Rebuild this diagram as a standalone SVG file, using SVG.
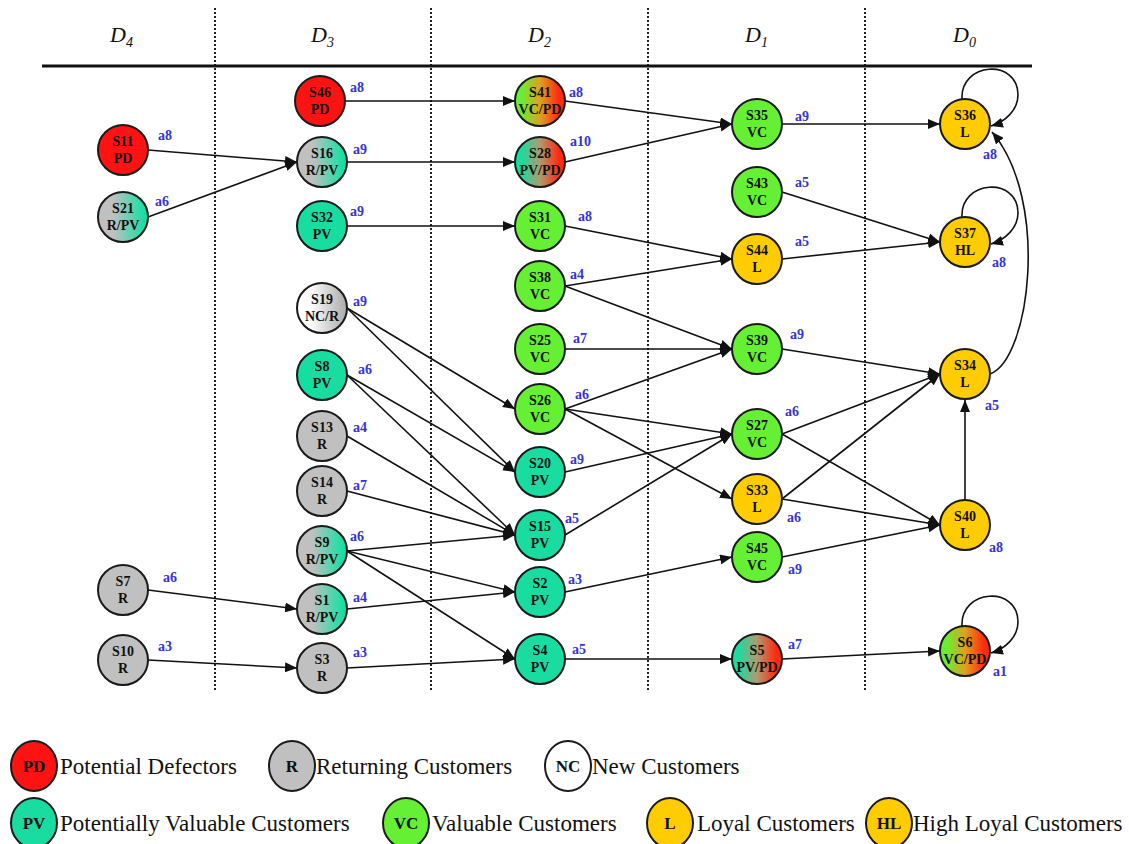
<svg xmlns="http://www.w3.org/2000/svg" width="1129" height="844" viewBox="0 0 1129 844">
<defs>
<marker id="ah" viewBox="0 0 12 10" refX="12" refY="5" markerWidth="12" markerHeight="10" markerUnits="userSpaceOnUse" orient="auto">
<path d="M0,0 L12,5 L0,10 z" fill="#111"/>
</marker>
<linearGradient id="gRPV" x1="0" y1="0" x2="1" y2="0"><stop offset="0.3" stop-color="#c0c0c0"/><stop offset="1" stop-color="#00e4a0"/></linearGradient>
<linearGradient id="gNCR" x1="0" y1="0" x2="1" y2="0"><stop offset="0.25" stop-color="#ffffff"/><stop offset="1" stop-color="#aaaaaa"/></linearGradient>
<linearGradient id="gVCPD" x1="0" y1="0" x2="1" y2="0"><stop offset="0.12" stop-color="#66f033"/><stop offset="0.5" stop-color="#e0a020"/><stop offset="0.88" stop-color="#ff2a10"/></linearGradient>
<linearGradient id="gPVPD" x1="0" y1="0" x2="1" y2="0"><stop offset="0.12" stop-color="#18dca0"/><stop offset="0.5" stop-color="#b09a70"/><stop offset="0.88" stop-color="#ff2a10"/></linearGradient>
</defs>
<style>
.n circle{stroke:#1a1a1a;stroke-width:2}
.n text{font-family:"Liberation Serif","Times New Roman",serif;font-weight:bold;font-size:14px;text-anchor:middle;fill:#111}
.n text.lbl{font-size:14px;text-anchor:start;fill:#3434d0}
.pd{fill:#ff1212}.r{fill:#c0c0c0}.pv{fill:#18dca0}.vc{fill:#66f033}.l{fill:#ffcc00}
.rpv{fill:url(#gRPV)}.ncr{fill:url(#gNCR)}.vcpd{fill:url(#gVCPD)}.pvpd{fill:url(#gPVPD)}
.e path,.e line{stroke:#111;stroke-width:1.6;fill:none;marker-end:url(#ah)}
.dot{stroke:#222;stroke-width:2;stroke-dasharray:2 2}
.hd{font-family:"Liberation Serif","Times New Roman",serif;font-style:italic;font-size:22px;fill:#111}
.lg ellipse{stroke:#1a1a1a;stroke-width:2}
.lg text{font-family:"Liberation Serif","Times New Roman",serif;font-size:23px;fill:#111}
.lg text.k{font-weight:bold;font-size:17px;text-anchor:middle}
</style>
<rect width="1129" height="844" fill="#ffffff"/>
<g id="grid">
<line class="dot" x1="215" y1="8" x2="215" y2="690"/>
<line class="dot" x1="431" y1="8" x2="431" y2="690"/>
<line class="dot" x1="648" y1="8" x2="648" y2="690"/>
<line class="dot" x1="865" y1="8" x2="865" y2="690"/>
<line x1="42" y1="66" x2="1032" y2="66" stroke="#111" stroke-width="3"/>
<text class="hd" x="110" y="42">D<tspan font-size="14" dy="5">4</tspan></text>
<text class="hd" x="311" y="42">D<tspan font-size="14" dy="5">3</tspan></text>
<text class="hd" x="528" y="42">D<tspan font-size="14" dy="5">2</tspan></text>
<text class="hd" x="745" y="42">D<tspan font-size="14" dy="5">1</tspan></text>
<text class="hd" x="953" y="42">D<tspan font-size="14" dy="5">0</tspan></text>
</g>
<g id="connectors" class="e">
<line x1="345" y1="101" x2="515" y2="101"/>
<line x1="148" y1="150" x2="297" y2="162"/>
<line x1="148" y1="217" x2="297" y2="162"/>
<line x1="347" y1="162" x2="515" y2="162"/>
<line x1="347" y1="226" x2="515" y2="226"/>
<line x1="565" y1="101" x2="732" y2="124"/>
<line x1="565" y1="162" x2="732" y2="124"/>
<line x1="782" y1="124" x2="940" y2="124"/>
<line x1="565" y1="226" x2="732" y2="259"/>
<line x1="782" y1="192" x2="940" y2="242"/>
<line x1="782" y1="259" x2="940" y2="242"/>
<line x1="565" y1="286" x2="732" y2="259"/>
<line x1="565" y1="286" x2="732" y2="349"/>
<line x1="565" y1="349" x2="732" y2="349"/>
<line x1="565" y1="409" x2="732" y2="349"/>
<line x1="565" y1="409" x2="732" y2="434"/>
<line x1="565" y1="409" x2="732" y2="499"/>
<line x1="565" y1="472" x2="732" y2="434"/>
<line x1="565" y1="535" x2="732" y2="434"/>
<line x1="347" y1="308" x2="515" y2="409"/>
<line x1="347" y1="308" x2="515" y2="472"/>
<line x1="347" y1="375" x2="515" y2="472"/>
<line x1="347" y1="375" x2="515" y2="535"/>
<line x1="347" y1="436" x2="515" y2="535"/>
<line x1="347" y1="491" x2="515" y2="535"/>
<line x1="347" y1="551" x2="515" y2="535"/>
<line x1="347" y1="551" x2="515" y2="592"/>
<line x1="347" y1="551" x2="515" y2="659"/>
<line x1="347" y1="609" x2="515" y2="592"/>
<line x1="347" y1="668" x2="515" y2="659"/>
<line x1="148" y1="590" x2="297" y2="609"/>
<line x1="148" y1="660" x2="297" y2="668"/>
<line x1="565" y1="592" x2="732" y2="557"/>
<line x1="565" y1="659" x2="732" y2="659"/>
<line x1="782" y1="659" x2="940" y2="651"/>
<line x1="782" y1="557" x2="940" y2="525"/>
<line x1="782" y1="499" x2="940" y2="525"/>
<line x1="782" y1="434" x2="940" y2="525"/>
<line x1="782" y1="499" x2="940" y2="374"/>
<line x1="782" y1="434" x2="940" y2="374"/>
<line x1="782" y1="349" x2="940" y2="374"/>
<line x1="965" y1="500" x2="965" y2="400"/>
<path d="M990,374 C1030,360 1050,200 992,132"/>
<path d="M962,99 C960,62 1018,58 1018,95 C1018,110 1005,122 991,126"/>
<path d="M962,217 C960,180 1018,176 1018,213 C1018,228 1005,240 991,244"/>
<path d="M962,626 C960,589 1018,585 1018,622 C1018,637 1005,649 991,653"/>
</g>
<g id="S11" class="n"><circle cx="123" cy="150" r="25" class="pd"/><text x="123" y="146">S11</text><text x="123" y="163">PD</text><text class="lbl" x="158" y="140">a8</text></g>
<g id="S21" class="n"><circle cx="123" cy="217" r="25" class="rpv"/><text x="123" y="213">S21</text><text x="123" y="230">R/PV</text><text class="lbl" x="155" y="206">a6</text></g>
<g id="S7" class="n"><circle cx="123" cy="590" r="25" class="r"/><text x="123" y="586">S7</text><text x="123" y="603">R</text><text class="lbl" x="163" y="582">a6</text></g>
<g id="S10" class="n"><circle cx="123" cy="660" r="25" class="r"/><text x="123" y="656">S10</text><text x="123" y="673">R</text><text class="lbl" x="158" y="651">a3</text></g>
<g id="S46" class="n"><circle cx="320" cy="101" r="25" class="pd"/><text x="320" y="97">S46</text><text x="320" y="114">PD</text><text class="lbl" x="350" y="92">a8</text></g>
<g id="S16" class="n"><circle cx="322" cy="162" r="25" class="rpv"/><text x="322" y="158">S16</text><text x="322" y="175">R/PV</text><text class="lbl" x="353" y="154">a9</text></g>
<g id="S32" class="n"><circle cx="322" cy="226" r="25" class="pv"/><text x="322" y="222">S32</text><text x="322" y="239">PV</text><text class="lbl" x="350" y="216">a9</text></g>
<g id="S19" class="n"><circle cx="322" cy="308" r="25" class="ncr"/><text x="322" y="304">S19</text><text x="322" y="321">NC/R</text><text class="lbl" x="353" y="306">a9</text></g>
<g id="S8" class="n"><circle cx="322" cy="375" r="25" class="pv"/><text x="322" y="371">S8</text><text x="322" y="388">PV</text><text class="lbl" x="358" y="374">a6</text></g>
<g id="S13" class="n"><circle cx="322" cy="436" r="25" class="r"/><text x="322" y="432">S13</text><text x="322" y="449">R</text><text class="lbl" x="353" y="432">a4</text></g>
<g id="S14" class="n"><circle cx="322" cy="491" r="25" class="r"/><text x="322" y="487">S14</text><text x="322" y="504">R</text><text class="lbl" x="353" y="490">a7</text></g>
<g id="S9" class="n"><circle cx="322" cy="551" r="25" class="rpv"/><text x="322" y="547">S9</text><text x="322" y="564">R/PV</text><text class="lbl" x="350" y="541">a6</text></g>
<g id="S1" class="n"><circle cx="322" cy="609" r="25" class="rpv"/><text x="322" y="605">S1</text><text x="322" y="622">R/PV</text><text class="lbl" x="353" y="602">a4</text></g>
<g id="S3" class="n"><circle cx="322" cy="668" r="25" class="r"/><text x="322" y="664">S3</text><text x="322" y="681">R</text><text class="lbl" x="353" y="657">a3</text></g>
<g id="S41" class="n"><circle cx="540" cy="101" r="25" class="vcpd"/><text x="540" y="97">S41</text><text x="540" y="114">VC/PD</text><text class="lbl" x="569" y="97">a8</text></g>
<g id="S28" class="n"><circle cx="540" cy="162" r="25" class="pvpd"/><text x="540" y="158">S28</text><text x="540" y="175">PV/PD</text><text class="lbl" x="570" y="146">a10</text></g>
<g id="S31" class="n"><circle cx="540" cy="226" r="25" class="vc"/><text x="540" y="222">S31</text><text x="540" y="239">VC</text><text class="lbl" x="578" y="221">a8</text></g>
<g id="S38" class="n"><circle cx="540" cy="286" r="25" class="vc"/><text x="540" y="282">S38</text><text x="540" y="299">VC</text><text class="lbl" x="570" y="279">a4</text></g>
<g id="S25" class="n"><circle cx="540" cy="349" r="25" class="vc"/><text x="540" y="345">S25</text><text x="540" y="362">VC</text><text class="lbl" x="573" y="343">a7</text></g>
<g id="S26" class="n"><circle cx="540" cy="409" r="25" class="vc"/><text x="540" y="405">S26</text><text x="540" y="422">VC</text><text class="lbl" x="575" y="399">a6</text></g>
<g id="S20" class="n"><circle cx="540" cy="472" r="25" class="pv"/><text x="540" y="468">S20</text><text x="540" y="485">PV</text><text class="lbl" x="570" y="464">a9</text></g>
<g id="S15" class="n"><circle cx="540" cy="535" r="25" class="pv"/><text x="540" y="531">S15</text><text x="540" y="548">PV</text><text class="lbl" x="565" y="523">a5</text></g>
<g id="S2" class="n"><circle cx="540" cy="592" r="25" class="pv"/><text x="540" y="588">S2</text><text x="540" y="605">PV</text><text class="lbl" x="568" y="584">a3</text></g>
<g id="S4" class="n"><circle cx="540" cy="659" r="25" class="pv"/><text x="540" y="655">S4</text><text x="540" y="672">PV</text><text class="lbl" x="572" y="654">a5</text></g>
<g id="S35" class="n"><circle cx="757" cy="124" r="25" class="vc"/><text x="757" y="120">S35</text><text x="757" y="137">VC</text><text class="lbl" x="795" y="121">a9</text></g>
<g id="S43" class="n"><circle cx="757" cy="192" r="25" class="vc"/><text x="757" y="188">S43</text><text x="757" y="205">VC</text><text class="lbl" x="795" y="187">a5</text></g>
<g id="S44" class="n"><circle cx="757" cy="259" r="25" class="l"/><text x="757" y="255">S44</text><text x="757" y="272">L</text><text class="lbl" x="795" y="246">a5</text></g>
<g id="S39" class="n"><circle cx="757" cy="349" r="25" class="vc"/><text x="757" y="345">S39</text><text x="757" y="362">VC</text><text class="lbl" x="790" y="339">a9</text></g>
<g id="S27" class="n"><circle cx="757" cy="434" r="25" class="vc"/><text x="757" y="430">S27</text><text x="757" y="447">VC</text><text class="lbl" x="785" y="416">a6</text></g>
<g id="S33" class="n"><circle cx="757" cy="499" r="25" class="l"/><text x="757" y="495">S33</text><text x="757" y="512">L</text><text class="lbl" x="787" y="522">a6</text></g>
<g id="S45" class="n"><circle cx="757" cy="557" r="25" class="vc"/><text x="757" y="553">S45</text><text x="757" y="570">VC</text><text class="lbl" x="788" y="574">a9</text></g>
<g id="S5" class="n"><circle cx="757" cy="659" r="25" class="pvpd"/><text x="757" y="655">S5</text><text x="757" y="672">PV/PD</text><text class="lbl" x="788" y="649">a7</text></g>
<g id="S36" class="n"><circle cx="965" cy="124" r="25" class="l"/><text x="965" y="120">S36</text><text x="965" y="137">L</text><text class="lbl" x="983" y="159">a8</text></g>
<g id="S37" class="n"><circle cx="965" cy="242" r="25" class="l"/><text x="965" y="238">S37</text><text x="965" y="255">HL</text><text class="lbl" x="992" y="267">a8</text></g>
<g id="S34" class="n"><circle cx="965" cy="374" r="25" class="l"/><text x="965" y="370">S34</text><text x="965" y="387">L</text><text class="lbl" x="985" y="410">a5</text></g>
<g id="S40" class="n"><circle cx="965" cy="525" r="25" class="l"/><text x="965" y="521">S40</text><text x="965" y="538">L</text><text class="lbl" x="989" y="552">a8</text></g>
<g id="S6" class="n"><circle cx="965" cy="651" r="25" class="vcpd"/><text x="965" y="647">S6</text><text x="965" y="664">VC/PD</text><text class="lbl" x="993" y="676">a1</text></g>
<g id="legend" class="lg">
<ellipse cx="34" cy="766" rx="23" ry="25" class="pd"/><text class="k" x="34" y="772">PD</text><text x="60" y="774">Potential Defectors</text>
<ellipse cx="292" cy="766" rx="23" ry="25" class="r"/><text class="k" x="292" y="772">R</text><text x="316" y="774">Returning Customers</text>
<ellipse cx="568" cy="766" rx="23" ry="25" fill="#ffffff"/><text class="k" x="568" y="772">NC</text><text x="592" y="774">New Customers</text>
<ellipse cx="34" cy="823" rx="23" ry="25" class="pv"/><text class="k" x="34" y="829">PV</text><text x="60" y="831">Potentially Valuable Customers</text>
<ellipse cx="406" cy="823" rx="23" ry="25" class="vc"/><text class="k" x="406" y="829">VC</text><text x="432" y="831">Valuable Customers</text>
<ellipse cx="670" cy="823" rx="23" ry="25" class="l"/><text class="k" x="670" y="829">L</text><text x="697" y="831">Loyal Customers</text>
<ellipse cx="889" cy="823" rx="23" ry="25" class="l"/><text class="k" x="889" y="829">HL</text><text x="913" y="831">High Loyal Customers</text>
</g>
</svg>
